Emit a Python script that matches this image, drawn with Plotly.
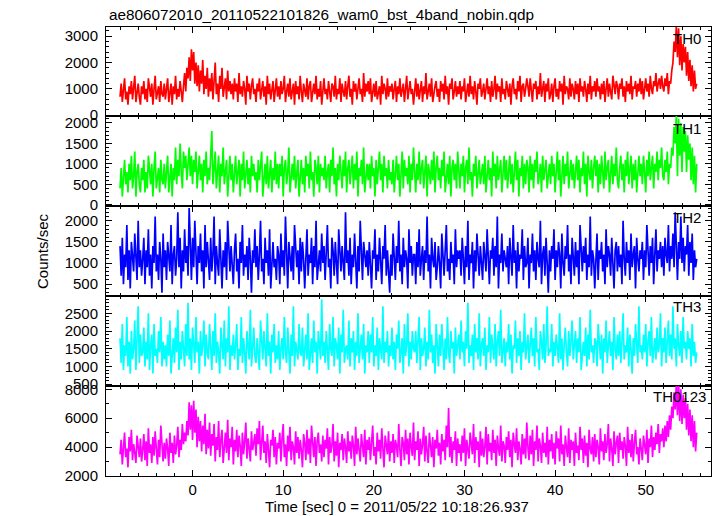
import numpy as np
import plotly.graph_objects as go

# ---------------- data ----------------
# Light-curve rates in units of 100 counts/sec, 1/8 s bins starting at t = -8 s.
# Each row below spans 2.5 s (20 bins); the last row holds 10 bins.
T_START = -8.0
T_STEP = 0.125
UNIT = 100  # counts/sec per list unit

TH0_H = [
    7,12,5,10,14,6,9,4,11,8,13,6,10,15,5,9,12,7,4,11,
    8,13,6,10,5,14,9,7,12,4,10,15,6,9,11,5,13,8,7,12,
    6,10,14,5,9,12,4,11,8,15,6,10,7,13,9,5,11,16,9,18,
    14,22,13,25,17,24,12,20,11,19,9,17,12,21,8,15,10,18,7,14,
    9,16,6,13,20,8,12,5,15,10,18,7,11,14,6,17,9,13,8,12,
    6,14,9,12,5,16,8,11,7,13,10,4,15,9,12,6,11,14,8,10,
    5,12,9,14,6,10,13,7,11,4,15,8,12,6,10,13,5,9,14,7,
    11,6,13,8,10,15,5,9,12,7,14,6,10,12,4,13,8,11,6,15,
    9,5,12,10,7,14,6,11,13,5,9,12,8,15,6,10,7,13,4,11,
    14,8,10,6,13,9,5,12,11,7,15,6,10,8,14,5,12,9,7,13,
    6,11,15,7,10,4,13,9,12,6,11,14,8,10,5,16,7,12,9,13,
    8,14,5,10,12,7,13,6,9,11,4,15,8,12,10,6,14,7,11,9,
    12,6,10,13,5,11,8,14,7,10,12,5,9,15,6,11,13,8,10,4,
    10,14,7,12,6,9,13,5,11,8,16,6,10,12,7,14,5,9,11,13,
    7,10,5,13,9,12,6,15,8,11,4,12,10,14,6,9,13,7,11,8,
    13,6,11,9,14,5,10,12,7,15,8,11,6,13,9,4,12,10,14,7,
    9,12,6,10,14,8,11,5,13,7,10,15,6,12,9,11,5,14,8,10,
    6,13,10,7,12,4,11,14,8,10,6,13,9,15,5,11,12,7,10,14,
    11,7,14,9,5,12,10,13,6,11,8,16,7,10,13,5,12,9,14,6,
    8,12,5,11,14,7,10,6,13,9,12,4,15,8,11,10,6,14,7,12,
    10,6,13,8,12,5,14,9,11,7,13,10,5,12,8,15,6,11,9,13,
    7,14,9,11,6,12,8,13,5,10,14,7,12,9,6,15,10,8,13,11,
    6,12,10,14,7,11,5,13,9,12,8,15,6,11,10,13,7,12,9,14,
    8,13,6,11,14,9,12,7,15,10,8,13,11,16,9,12,14,10,15,11,
    9,14,11,16,8,13,12,17,20,28,24,34,22,33,19,30,17,27,20,26,
    15,24,13,21,11,19,9,17,10,12,
]

TH1_H = [
    4,9,2,7,11,5,8,3,10,6,12,4,7,13,2,8,10,5,3,9,
    6,11,3,8,4,12,7,5,10,2,9,13,4,7,9,3,11,6,5,10,
    4,8,12,3,7,10,2,9,6,14,5,11,7,15,8,4,13,9,12,6,
    10,14,7,12,5,11,8,13,4,9,12,6,10,3,11,7,13,5,9,6,
    11,18,5,9,13,4,8,12,3,10,7,14,5,9,11,2,8,12,6,10,
    3,9,12,5,8,11,2,10,6,13,4,8,11,5,9,3,12,7,10,6,
    8,3,11,6,9,13,2,7,10,5,12,4,8,11,3,9,6,13,5,10,
    4,10,7,12,2,9,11,5,8,14,3,7,10,6,12,4,9,11,2,8,
    11,5,9,3,12,7,10,4,13,6,8,2,11,9,5,12,3,10,7,9,
    6,12,4,8,10,3,11,7,14,5,9,2,10,6,12,8,4,11,7,13,
    3,9,11,5,8,12,4,10,6,13,2,9,7,11,5,14,3,8,10,6,
    10,4,12,7,9,2,11,5,8,13,6,10,3,12,7,9,4,11,6,8,
    5,11,3,9,12,6,10,2,8,13,4,11,7,9,5,12,3,10,6,14,
    8,3,10,6,13,5,9,11,4,7,12,2,10,8,5,11,6,13,3,9,
    12,6,9,4,11,7,13,3,8,10,5,12,2,9,11,6,10,4,13,7,
    4,10,7,12,3,9,11,5,14,6,8,2,10,7,12,4,9,11,5,8,
    10,5,12,3,8,11,6,9,2,13,7,10,4,12,6,9,11,3,8,12,
    6,11,4,9,12,5,10,3,8,13,6,11,2,9,7,12,4,10,5,11,
    9,3,12,6,10,4,11,8,13,5,7,10,3,12,6,9,11,4,8,10,
    5,12,7,10,3,9,13,6,11,2,8,12,5,10,7,13,4,9,11,6,
    10,4,8,12,6,11,3,9,7,13,5,10,2,12,8,6,11,4,9,12,
    7,11,3,10,5,12,8,4,13,6,9,11,3,8,12,5,10,7,14,6,
    4,9,12,6,10,3,11,7,13,5,8,12,4,10,6,11,3,9,12,7,
    10,5,12,8,3,11,7,13,6,9,12,4,10,8,13,6,11,9,14,7,
    6,11,8,13,5,10,9,14,12,19,15,22,7,21,12,20,8,19,13,18,
    8,17,11,15,6,14,5,12,3,10,
]

TH2_H = [
    14,7,16,5,12,9,19,6,13,4,15,10,8,17,11,6,20,9,13,7,
    11,16,5,13,9,18,7,12,4,14,10,21,8,12,6,15,11,3,17,9,
    13,6,15,10,8,19,5,12,14,7,11,22,9,16,4,13,8,18,10,14,
    7,23,11,6,16,9,20,12,5,14,10,17,8,13,4,19,9,15,11,6,
    16,8,12,21,5,14,10,7,18,11,4,13,9,15,6,20,12,8,14,10,
    5,13,17,8,11,4,15,10,19,7,12,9,14,6,16,11,3,13,10,18,
    9,14,6,12,20,8,11,5,16,10,13,7,18,4,12,15,9,11,6,14,
    12,5,17,9,13,7,21,10,4,15,11,8,14,6,19,12,9,13,5,16,
    8,15,11,4,13,18,7,12,10,16,5,14,9,20,6,11,13,8,17,10,
    14,6,12,19,9,11,4,16,13,7,15,10,5,18,12,8,14,11,6,22,
    10,13,7,16,5,12,9,17,11,4,14,8,20,10,6,15,12,9,13,7,
    15,9,4,13,11,18,6,12,8,16,10,5,14,11,19,7,13,9,3,12,
    7,17,11,6,14,10,20,8,12,5,16,9,13,11,4,18,10,14,7,12,
    12,5,15,9,18,7,11,14,6,13,10,21,8,12,4,16,11,9,15,6,
    9,14,10,4,17,12,7,13,19,8,11,6,15,10,12,5,18,9,13,11,
    13,7,16,11,5,14,9,20,6,12,10,15,4,13,8,17,11,7,14,10,
    6,15,12,8,18,10,5,13,11,16,7,14,9,21,4,12,10,17,8,13,
    11,9,14,5,16,12,7,19,10,13,4,15,8,12,11,18,6,14,9,10,
    16,4,12,10,17,8,13,6,15,11,9,20,5,12,14,7,16,10,3,13,
    8,14,11,18,6,13,9,15,12,4,17,10,7,14,11,19,8,12,5,16,
    12,7,15,9,13,5,19,11,8,14,10,16,6,12,9,21,7,13,11,4,
    10,17,6,13,11,15,8,12,5,18,9,14,12,7,16,10,4,13,15,8,
    14,9,12,5,20,11,7,15,10,13,6,17,9,12,14,4,16,11,8,13,
    11,15,6,13,9,19,12,7,14,10,16,5,12,18,8,13,11,15,9,14,
    7,16,12,10,19,8,14,11,17,9,22,13,6,15,11,21,10,16,8,14,
    12,19,7,15,10,17,6,13,9,11,
]

TH3_H = [
    18,11,22,9,16,13,24,10,17,8,20,12,15,23,9,16,27,11,19,13,
    14,21,10,17,12,25,9,16,19,8,22,13,15,11,20,14,24,10,17,12,
    16,10,19,13,23,8,15,18,11,21,14,26,9,17,12,20,15,10,22,13,
    28,12,18,9,21,15,11,24,14,17,8,20,13,16,23,10,19,14,12,22,
    15,9,20,13,25,11,17,14,8,21,16,12,23,10,18,14,27,9,16,13,
    19,12,16,22,9,15,13,24,11,18,14,8,20,17,12,26,10,15,21,13,
    11,18,14,9,23,16,12,20,15,10,25,13,17,8,19,14,22,11,16,12,
    20,9,15,18,12,24,14,11,21,16,8,19,13,27,10,17,15,12,22,14,
    13,21,10,16,19,12,25,9,15,18,11,23,14,17,8,20,16,12,29,13,
    17,11,20,14,9,22,15,13,24,10,18,16,12,21,8,19,14,26,11,15,
    16,12,23,10,18,14,20,9,17,13,25,11,15,19,12,22,8,16,14,20,
    11,19,14,24,10,16,13,21,9,18,15,12,27,11,17,14,20,10,16,13,
    21,12,17,9,19,15,23,11,14,18,8,22,13,16,25,10,17,12,20,15,
    14,20,11,16,24,9,18,13,15,21,10,17,12,26,14,19,11,16,8,22,
    15,10,19,13,22,16,9,18,12,24,14,11,20,15,17,8,21,13,16,19,
    12,23,14,17,10,20,15,28,11,16,13,19,9,22,14,18,12,25,10,16,
    18,13,21,9,16,14,24,11,19,15,12,22,10,17,20,13,26,11,15,18,
    10,17,14,22,12,19,8,16,15,23,11,18,13,20,9,17,14,25,12,16,
    19,11,16,21,13,18,10,24,14,15,9,20,17,12,22,11,16,27,13,15,
    14,22,10,17,13,19,15,11,25,12,18,9,16,21,14,10,20,13,17,23,
    12,16,20,11,18,14,24,9,15,17,13,21,10,19,12,26,14,16,11,18,
    17,10,22,15,12,19,8,18,14,23,11,16,20,13,17,9,24,15,12,19,
    13,20,11,17,25,12,16,14,21,10,19,15,8,18,13,22,16,11,27,14,
    16,12,19,14,22,10,17,20,13,24,11,15,18,12,21,14,16,25,10,18,
    14,21,11,17,23,13,19,12,27,15,18,10,22,16,13,20,11,24,15,17,
    12,20,15,18,10,22,13,17,11,14,
]

TH0123_H = [
    35,45,28,41,50,33,39,26,47,37,52,31,42,36,29,48,40,33,46,30,
    38,49,31,44,27,53,36,42,29,47,34,51,39,28,45,33,55,37,30,43,
    32,46,39,27,50,36,43,29,48,35,41,54,33,45,38,56,42,50,44,58,
    48,71,52,69,45,72,50,66,40,61,44,58,37,55,42,63,35,52,39,57,
    34,49,41,56,30,47,38,58,33,45,52,29,43,50,36,59,31,46,40,54,
    28,45,37,52,33,48,41,27,50,35,44,57,32,46,39,30,51,38,43,49,
    34,53,42,58,31,47,55,36,44,29,49,38,26,45,41,52,33,47,28,43,
    39,50,30,46,56,33,42,27,48,37,54,31,44,40,28,51,36,47,32,45,
    38,26,49,43,31,52,35,46,29,55,40,33,47,27,44,50,36,42,30,48,
    33,45,39,53,28,47,36,41,56,30,44,34,50,26,43,38,49,31,46,40,
    29,51,37,44,32,48,41,27,54,35,46,39,30,49,42,33,52,28,45,38,
    47,31,43,55,34,40,28,50,37,45,32,53,39,26,48,42,35,51,30,44,
    36,49,29,45,41,33,56,38,27,47,43,31,52,35,46,28,50,40,34,57,
    31,44,38,51,27,46,35,42,54,30,48,37,29,50,41,33,47,26,45,39,
    52,34,43,28,49,37,45,31,55,40,67,33,47,29,44,38,51,27,46,36,
    42,30,48,36,53,27,45,39,32,50,41,35,56,29,47,38,44,26,51,34,
    46,33,40,54,28,49,37,43,31,52,36,45,27,48,39,34,55,30,44,41,
    29,47,38,51,33,45,26,50,42,36,53,31,44,39,28,49,35,46,32,57,
    40,31,48,35,52,27,44,38,55,30,46,41,29,50,36,43,33,54,28,45,
    37,49,32,43,28,51,39,46,30,55,35,42,27,48,40,33,53,29,45,38,
    44,27,50,36,41,31,54,38,46,29,48,34,43,26,52,39,35,47,30,49,
    33,45,40,28,53,37,44,31,49,36,42,56,30,46,39,27,51,35,43,48,
    29,50,38,44,32,47,41,27,54,36,45,33,49,30,43,52,35,40,28,46,
    39,31,48,43,35,52,29,46,40,55,33,47,38,50,42,56,36,49,44,53,
    40,55,44,58,47,62,52,68,60,78,66,84,62,85,58,80,56,76,60,74,
    52,70,48,66,44,62,40,58,37,50,
]

PANEL_NAMES = ["TH0", "TH1", "TH2", "TH3", "TH0123"]
SERIES_H = [TH0_H, TH1_H, TH2_H, TH3_H, TH0123_H]
COLORS = ["#ff0000", "#00ff00", "#0000ff", "#00ffff", "#ff00ff"]
Y_RANGES = [[-30, 3350], [-30, 2170], [220, 2350], [450, 2990], [2000, 8230]]
Y_DTICK = [1000, 500, 500, 500, 2000]
Y_MINOR = [200, 100, 100, 100, 1000]
X_RANGE = [-9.55, 57.2]

TITLE = "ae806072010_20110522101826_wam0_bst_4band_nobin.qdp"
X_TITLE = "Time [sec] 0 = 2011/05/22 10:18:26.937"
Y_TITLE = "Counts/sec"

# ---------------- layout geometry ----------------
W, H = 717, 516
X0, X1 = 106, 711
PANEL_EDGES = [27, 116, 206, 296, 386, 476]
FONT = "Liberation Sans, Arial, sans-serif"

fig = go.Figure()

for i, (vals, col) in enumerate(zip(SERIES_H, COLORS)):
    y = np.asarray(vals, dtype=float) * UNIT
    t = T_START + T_STEP * np.arange(len(y))
    fig.add_trace(go.Scatter(
        x=t, y=y, mode="lines",
        line=dict(color=col, width=1.7),
        xaxis=f"x{i+1}", yaxis=f"y{i+1}",
        showlegend=False, hoverinfo="skip",
    ))

layout = dict(
    width=W, height=H,
    margin=dict(l=0, r=0, t=0, b=0, autoexpand=False),
    paper_bgcolor="white", plot_bgcolor="white",
    font=dict(family=FONT, size=15, color="black"),
    showlegend=False,
)

for i in range(5):
    top, bot = PANEL_EDGES[i], PANEL_EDGES[i + 1]
    dom_y = [1 - bot / H, 1 - top / H]
    xa = dict(
        domain=[X0 / W, X1 / W], range=X_RANGE, anchor=f"y{i+1}", automargin=False,
        showline=True, linecolor="black", linewidth=1, mirror="ticks",
        ticks="inside", ticklen=6, tickwidth=1, tickcolor="black",
        tick0=0, dtick=10, showgrid=False, zeroline=False,
        minor=dict(ticks="inside", ticklen=3, dtick=2, tickcolor="black", showgrid=False),
        showticklabels=(i == 4),
        tickfont=dict(family=FONT, size=15, color="black"),
    )
    if i > 0:
        xa["matches"] = "x"
    ya = dict(
        domain=dom_y, range=Y_RANGES[i], anchor=f"x{i+1}", automargin=False,
        showline=True, linecolor="black", linewidth=1, mirror="ticks",
        ticks="inside", ticklen=6, tickwidth=1, tickcolor="black",
        tick0=0, dtick=Y_DTICK[i], showgrid=False, zeroline=False,
        minor=dict(ticks="inside", ticklen=3, dtick=Y_MINOR[i], tickcolor="black", showgrid=False),
        tickfont=dict(family=FONT, size=15, color="black"),
        ticklabelstandoff=4,
    )
    key = "" if i == 0 else str(i + 1)
    layout[f"xaxis{key}"] = xa
    layout[f"yaxis{key}"] = ya

fig.update_layout(**layout)

annots = [
    dict(text=TITLE, x=107 / W, y=1 - 14 / H, xref="paper", yref="paper",
         xanchor="left", yanchor="middle", showarrow=False,
         font=dict(family=FONT, size=15.3, color="black")),
    dict(text=X_TITLE, x=397 / W, y=1 - 506 / H, xref="paper", yref="paper",
         xanchor="center", yanchor="middle", showarrow=False,
         font=dict(family=FONT, size=15, color="black")),
    dict(text=Y_TITLE, x=42 / W, y=1 - 251 / H, xref="paper", yref="paper",
         xanchor="center", yanchor="middle", showarrow=False, textangle=-90,
         font=dict(family=FONT, size=15, color="black")),
]
LABEL_POS = [(703, 38), (703, 128), (703, 217), (703, 306), (708, 396)]
for name, (lx, ly) in zip(PANEL_NAMES, LABEL_POS):
    annots.append(dict(text=name, x=lx / W, y=1 - ly / H, xref="paper", yref="paper",
                       xanchor="right", yanchor="middle", showarrow=False,
                       font=dict(family=FONT, size=15, color="black")))
fig.update_layout(annotations=annots)

# remove the browser's default page margin so the figure sits at the window origin
fig.write_html(
    "out.html",
    config={"displayModeBar": False},
    post_script="document.body.style.margin='0';document.body.style.overflow='hidden';",
)
